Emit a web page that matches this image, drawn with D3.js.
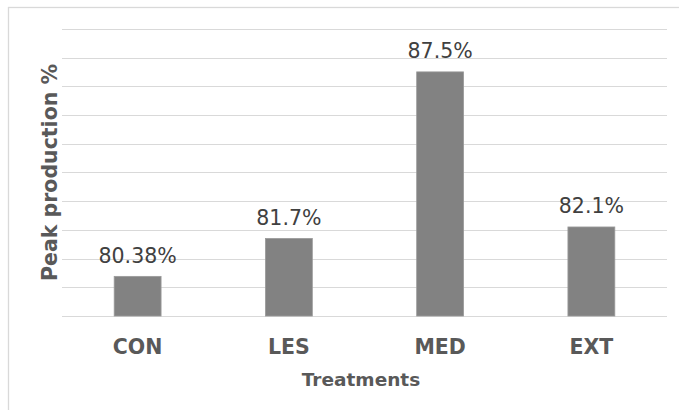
<!DOCTYPE html>
<html>
<head>
<meta charset="utf-8">
<script src="https://cdn.jsdelivr.net/npm/d3@7"></script>
<style>
  html, body { margin: 0; padding: 0; background: #ffffff; }
  svg { display: block; }
</style>
</head>
<body>
<svg id="chart" width="679" height="410"></svg>
<script>
// Peak production by treatment
const categories = ["CON", "LES", "MED", "EXT"];
const peakValues = [80.38, 81.7, 87.5, 82.1];
const valueLabels = ["80.38%", "81.7%", "87.5%", "82.1%"];
const gridTicks = [79, 80, 81, 82, 83, 84, 85, 86, 87, 88, 89];

const svg = d3.select("#chart");
const W = 679;
const margin = { left: 62, right: 12 };

// outer frame (runs off the right and bottom edges)
svg.append("rect")
  .attr("x", 8.5).attr("y", 7.5)
  .attr("width", 720).attr("height", 450)
  .attr("fill", "none")
  .attr("stroke", "#d9d9d9")
  .attr("stroke-width", 1.3);

const x = d3.scaleBand()
  .domain(categories)
  .range([margin.left, W - margin.right])
  .paddingInner(0.69)
  .paddingOuter(0.345);

const y = d3.scaleLinear()
  .domain([79, 89])
  .range([316, 28.8]);

// horizontal gridlines
svg.append("g")
  .selectAll("line")
  .data(gridTicks)
  .join("line")
  .attr("x1", margin.left)
  .attr("x2", W - margin.right)
  .attr("y1", d => Math.round(y(d)) + 0.5)
  .attr("y2", d => Math.round(y(d)) + 0.5)
  .attr("stroke", "#d9d9d9")
  .attr("stroke-width", 1);

// bars
svg.append("g")
  .selectAll("rect")
  .data(categories)
  .join("rect")
  .attr("x", d => x(d))
  .attr("width", x.bandwidth())
  .attr("y", (d, i) => y(peakValues[i]))
  .attr("height", (d, i) => y(79) - y(peakValues[i]))
  .attr("fill", "#828282")
  .attr("stroke", "#9a9a9a")
  .attr("stroke-width", 0.8);

// value labels
svg.append("g")
  .selectAll("text")
  .data(categories)
  .join("text")
  .attr("x", d => x(d) + x.bandwidth() / 2)
  .attr("y", (d, i) => y(peakValues[i]) - 13.5)
  .attr("text-anchor", "middle")
  .attr("font-family", "DejaVu Sans, sans-serif")
  .attr("font-size", 20.5)
  .attr("fill", "#404040")
  .text((d, i) => valueLabels[i]);

// category axis
const xAxis = svg.append("g")
  .attr("transform", "translate(0,316)")
  .call(d3.axisBottom(x).tickSize(0).tickPadding(0));
xAxis.select(".domain").remove();
xAxis.selectAll("text")
  .attr("dy", null)
  .attr("y", 38)
  .attr("font-family", "DejaVu Sans, sans-serif")
  .attr("font-weight", "bold")
  .attr("font-size", 20.5)
  .attr("fill", "#595959");

// axis titles
svg.append("text")
  .attr("x", 361)
  .attr("y", 386)
  .attr("text-anchor", "middle")
  .attr("font-family", "DejaVu Sans, sans-serif")
  .attr("font-weight", "bold")
  .attr("font-size", 18.5)
  .attr("fill", "#595959")
  .text("Treatments");

svg.append("text")
  .attr("transform", "translate(57,172.5) rotate(-90)")
  .attr("text-anchor", "middle")
  .attr("font-family", "DejaVu Sans, sans-serif")
  .attr("font-weight", "bold")
  .attr("font-size", 20.5)
  .attr("fill", "#595959")
  .text("Peak production %");
</script>
</body>
</html>
